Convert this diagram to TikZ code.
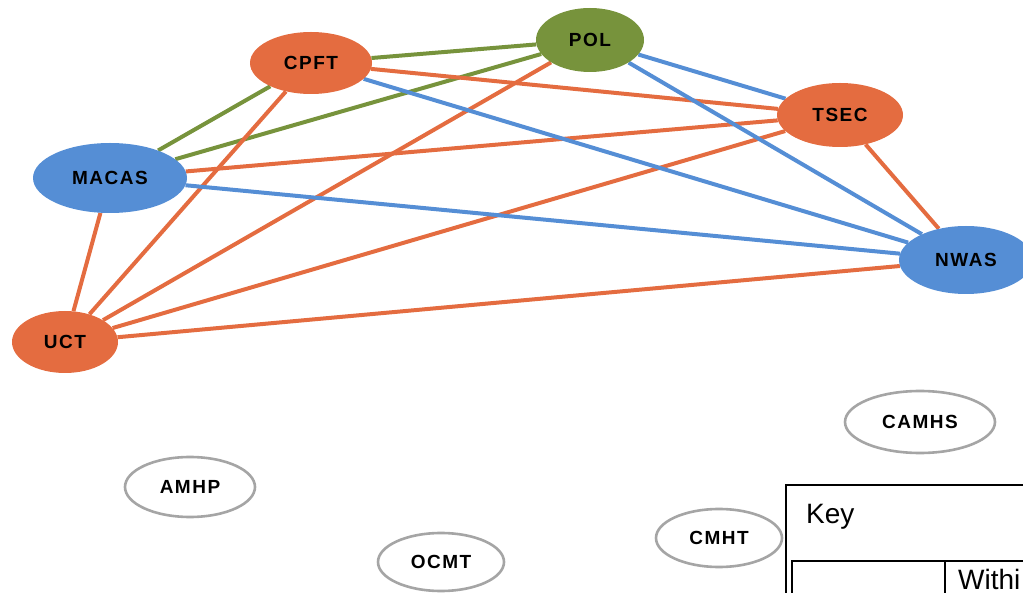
\documentclass[tikz,border=0pt]{standalone}
\usepackage{fontspec}
\setmainfont{Liberation Sans}
\newfontfamily\labfont[LetterSpace=8]{Liberation Sans}
\usetikzlibrary{shapes.geometric,backgrounds}

\definecolor{orgorange}{RGB}{228,108,64}
\definecolor{orgblue}{RGB}{85,142,213}
\definecolor{orggreen}{RGB}{119,147,60}
\definecolor{ringgray}{RGB}{165,165,165}

\tikzset{
  agency/.style={ellipse, inner sep=0pt, draw=none,
    font=\labfont\fontsize{19}{19}\selectfont\bfseries},
  orange agency/.style={agency, fill=orgorange},
  blue agency/.style={agency, fill=orgblue},
  green agency/.style={agency, fill=orggreen},
  unlinked/.style={agency, fill=white, draw=ringgray, line width=2.6pt},
  link/.style={line width=4pt},
  olink/.style={link, draw=orgorange},
  blink/.style={link, draw=orgblue},
  glink/.style={link, draw=orggreen},
  keyline/.style={draw=black, line width=1.8pt}
}

\begin{document}
\begin{tikzpicture}[x=1pt, y=-1pt]
  \useasboundingbox (0,0) rectangle (1023,593);
  \clip (0,0) rectangle (1023,593);

  % linked agencies
  \node[orange agency, minimum width=122pt, minimum height=62pt] (cpft)  at (311,63)  {CPFT};
  \node[green agency,  minimum width=108pt, minimum height=64pt] (pol)   at (590,40)  {POL};
  \node[orange agency, minimum width=126pt, minimum height=64pt] (tsec)  at (840,115) {TSEC};
  \node[blue agency,   minimum width=154pt, minimum height=70pt] (macas) at (110,178) {MACAS};
  \node[blue agency,   minimum width=134pt, minimum height=68pt] (nwas)  at (966,260) {NWAS};
  \node[orange agency, minimum width=106pt, minimum height=62pt] (uct)   at (65,342)  {UCT};

  % agencies with no links
  \node[unlinked, minimum width=150pt, minimum height=62pt] (camhs) at (920,422) {CAMHS};
  \node[unlinked, minimum width=130pt, minimum height=60pt] (amhp)  at (190,487) {AMHP};
  \node[unlinked, minimum width=126pt, minimum height=58pt] (cmht)  at (719,538) {CMHT};
  \node[unlinked, minimum width=126pt, minimum height=58pt] (ocmt)  at (441,562) {OCMT};

  % connections, kept behind the ellipses
  \begin{scope}[on background layer]
    \path[glink] (macas) -- (cpft);
    \path[glink] (macas) -- (pol);
    \path[glink] (cpft) -- (pol);

    \path[olink] (cpft) -- (tsec);
    \path[olink] (cpft) -- (uct);
    \path[olink] (pol) -- (uct);
    \path[olink] (macas) -- (tsec);
    \path[olink] (macas) -- (uct);
    \path[olink] (tsec) -- (uct);
    \path[olink] (tsec) -- (nwas);
    \path[olink] (uct) -- (nwas);

    \path[blink] (cpft) -- (nwas);
    \path[blink] (pol) -- (tsec);
    \path[blink] (pol) -- (nwas);
    \path[blink] (macas) -- (nwas);
  \end{scope}

  % key
  \node[draw=none, inner sep=0pt, anchor=base west,
        font=\fontsize{28}{28}\selectfont] (keytitle) at (806,523) {Key};
  \path[keyline] (786,630) -- (786,485) -- (1040,485);
  \path[keyline] (792,630) -- (792,561) -- (1040,561);
  \path[keyline] (945,561) -- (945,630);
  \node[draw=none, inner sep=0pt, anchor=base west,
        font=\fontsize{28}{28}\selectfont] (keyrow) at (958,589) {Withi};
\end{tikzpicture}
\end{document}
